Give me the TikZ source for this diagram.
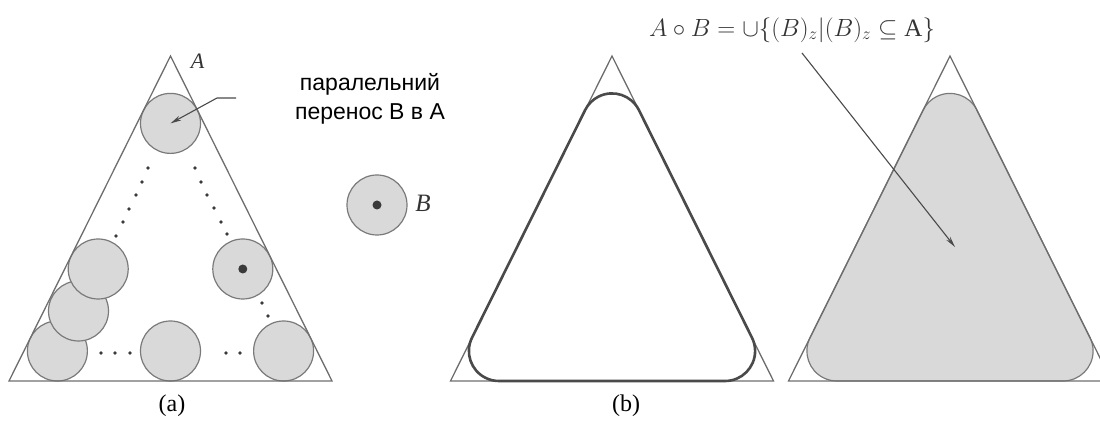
\documentclass[tikz,border=0pt]{standalone}
\usepackage{fontspec}
\setmainfont{Liberation Serif}
\newfontfamily\uksans{Liberation Sans}
\usetikzlibrary{arrows.meta}
\definecolor{triline}{HTML}{6E6E6E}
\definecolor{diskline}{HTML}{7A7A7A}
\definecolor{diskfill}{HTML}{D9D9D9}
\definecolor{darkline}{HTML}{4A4A4A}
\definecolor{dotcol}{HTML}{3A3A3A}
\definecolor{txtcol}{HTML}{333333}
\begin{document}
\begin{tikzpicture}[x=1pt,y=1pt,
  tri/.style={draw=triline, line width=1.3pt, line join=miter},
  disk/.style={circle, draw=diskline, fill=diskfill, line width=1.2pt, minimum size=60pt, inner sep=0pt},
  smalldot/.style={fill=dotcol},
  ptr/.style={draw=darkline, line width=1.1pt, -{Stealth[length=11pt,width=5pt]}},
  lab/.style={text=txtcol, inner sep=0pt}]
\useasboundingbox (0,0) rectangle (1100,438);

% ---------- (a) ----------
\begin{scope}[xshift=170.5pt]
  \node[disk] (bl) at (-113.1,87) {};
  \node[disk] (ll) at (-92,127) {};
  \node[disk] (lm) at (-72.3,169) {};
  \node[disk] (bm) at (0,87) {};
  \node[disk] (br) at (113.1,87) {};
  \node[disk] (rm) at (72.3,169) {};
  \node[disk] (tc) at (0,314.6) {};
  \fill[smalldot] (rm.center) circle[radius=4.5];
  \foreach \x/\y in {-22.5/270,-28.5/256,-34.5/243,-41.5/229,-47.5/216,-54.5/202,
                     24.5/270,30.5/256,36.5/243,43.5/230,50.5/216,56.5/204,
                     91.5/135,97.5/122,
                     -69.5/85,-55.5/85,-40.5/85,55.5/85,69.5/85}
    \fill[smalldot] (\x,\y) circle[radius=1.8];
  \draw[tri] (-161.5,57) -- (161.5,57) -- (0,382) -- cycle;
  \node[lab, font=\itshape\fontsize{22}{22}\selectfont] (la) at (27,377) {A};
\end{scope}

\node[disk] (bb) at (377,233) {};
\fill[smalldot] (bb.center) circle[radius=4.5];
\node[lab, font=\itshape\fontsize{25}{25}\selectfont] (lb) at (423,235) {B};

\node[lab, font=\uksans\fontsize{23}{29}\selectfont, align=center, text=black] (txt) at (370,339)
  {паралельний\\перенос B в A};
\coordinate (p0) at (236,340);
\coordinate (p1) at (217,340);
\draw[ptr] (p0) -- (p1) -- (tc.center);

\node[lab, font=\fontsize{24}{24}\selectfont, text=black] (capa) at (172,32) {(a)};

% ---------- (b) left ----------
\begin{scope}[xshift=612pt]
  \draw[tri] (-161.5,57) -- (161.5,57) -- (0,382) -- cycle;
  \draw[draw=darkline, line width=2.6pt]
    (-113.1,57) -- (113.1,57) arc[start angle=-90,end angle=26.42,radius=30]
    -- (26.87,327.95) arc[start angle=26.42,end angle=153.58,radius=30]
    -- (-139.97,100.35) arc[start angle=153.58,end angle=270,radius=30] -- cycle;
\end{scope}

% ---------- (b) right ----------
\begin{scope}[xshift=950pt]
  \filldraw[fill=diskfill, draw=diskline, line width=1.2pt]
    (-113.1,57) -- (113.1,57) arc[start angle=-90,end angle=26.42,radius=30]
    -- (26.87,327.95) arc[start angle=26.42,end angle=153.58,radius=30]
    -- (-139.97,100.35) arc[start angle=153.58,end angle=270,radius=30] -- cycle;
  \draw[tri] (-161.5,57) -- (161.5,57) -- (0,382) -- cycle;
\end{scope}

\node[lab, font=\fontsize{25}{25}\selectfont] (form) at (792,408)
  {$A\circ B=\cup\{(B)_z|(B)_z\subseteq \mathrm{A}\}$};
\coordinate (q0) at (802,385);
\coordinate (q1) at (955,191);
\draw[ptr] (q0) -- (q1);

\node[lab, font=\fontsize{24}{24}\selectfont, text=black] (capb) at (626,32) {(b)};
\end{tikzpicture}
\end{document}
